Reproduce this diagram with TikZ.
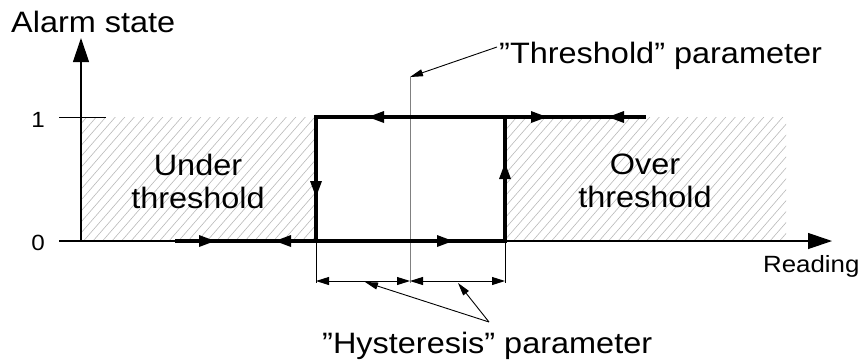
\documentclass[tikz,border=0pt]{standalone}
\usepackage{fontspec}
\setmainfont{Liberation Sans}[FakeStretch=1.1]
\usetikzlibrary{arrows.meta}
\newcommand\tipR[2]{\fill (#1,#2) -- ++(-16,-6) -- ++(0,12) -- cycle;}
\newcommand\tipL[2]{\fill (#1,#2) -- ++(16,-6) -- ++(0,12) -- cycle;}
\newcommand\tipD[2]{\fill (#1,#2) -- ++(-6,-16) -- ++(12,0) -- cycle;}
\newcommand\tipU[2]{\fill (#1,#2) -- ++(-6,16) -- ++(12,0) -- cycle;}
\begin{document}
\begin{tikzpicture}[x=1pt,y=-1pt,
  axisline/.style={line width=1.2pt,-{Triangle[length=24pt,width=16pt]}},
  loopline/.style={line width=3.4pt,line cap=butt},
  dimline/.style={line width=0.9pt,{Triangle[length=13pt,width=8pt]}-{Triangle[length=13pt,width=8pt]}},
  extline/.style={line width=0.8pt},
  leader/.style={line width=0.9pt,-{Triangle[length=13pt,width=7pt]}},
  threshline/.style={gray,line width=0.8pt},
  hatchline/.style={gray!55,line width=0.6pt},
  lbl/.style={font=\fontsize{29.5}{33}\selectfont,inner sep=0pt},
  numlbl/.style={font=\fontsize{22}{24}\selectfont,inner sep=0pt},
  ]
\useasboundingbox (0,0) rectangle (865,360);
% hatched regions
\begin{scope}
  \clip (81,117) rectangle (316,241);
  \foreach \i in {0,...,40} \draw[hatchline] ({-40+\i*9.5},241) -- ++(160,-184);
\end{scope}
\begin{scope}
  \clip (505,117) rectangle (786,241);
  \foreach \i in {0,...,42} \draw[hatchline] ({390+\i*9.5},241) -- ++(160,-184);
\end{scope}
% coordinates
\coordinate (O) at (81,241);
\coordinate (Ytop) at (81,38);
\coordinate (Xl) at (59,241);
\coordinate (Xr) at (832,241);
\coordinate (T1a) at (59,117);
\coordinate (T1b) at (106,117);
\coordinate (L0) at (175,241);
\coordinate (BL) at (316,241);
\coordinate (TL) at (316,117);
\coordinate (BR) at (505,241);
\coordinate (TR) at (505,117);
\coordinate (U1) at (646,117);
\coordinate (Th0) at (410,77);
\coordinate (Th1) at (410,283);
\coordinate (Thm) at (410,281);
\coordinate (E1) at (316,283);
\coordinate (E2) at (505,283);
\coordinate (D1) at (316,281);
\coordinate (D2) at (505,281);
\coordinate (H0) at (489,322);
\coordinate (H1) at (365,282);
\coordinate (H2) at (458,283);
\coordinate (Q0) at (497,47);
% axes
\draw[axisline] (O) -- (Ytop);
\draw[axisline] (Xl) -- (Xr);
\draw[line width=0.9pt] (T1a) -- (T1b);
% threshold line
\draw[threshline] (Th0) -- (Th1);
% loop
\draw[loopline] (L0) -- (BR) -- (TR);
\draw[loopline] (BL) -- (TL) -- (U1);
\tipR{215}{241}
\tipL{275}{241}
\tipR{453}{241}
\tipL{368}{117}
\tipR{547}{117}
\tipL{608}{117}
\tipD{316}{197}
\tipU{505}{163}
% dimensions
\draw[extline] (BL) -- (E1);
\draw[extline] (BR) -- (E2);
\draw[dimline] (D1) -- (Thm);
\draw[dimline] (Thm) -- (D2);
\draw[leader] (H0) -- (H1);
\draw[leader] (H0) -- (H2);
\draw[leader] (Q0) -- (Th0);
% labels
\node[lbl,anchor=base west] (alarm) at (11,32) {Alarm state};
\node[numlbl,anchor=base] (one) at (38,127) {1};
\node[numlbl,anchor=base] (zero) at (38,250) {0};
\node[lbl,align=center] (under) at (198,181) {Under\\threshold};
\node[lbl,align=center] (over) at (645,181) {Over\\threshold};
\node[lbl,anchor=base west,font=\fontsize{23.5}{28}\selectfont] (reading) at (763,272) {Reading};
\node[lbl,anchor=base west] (thr) at (499,63) {”Threshold” parameter};
\node[lbl,anchor=base west] (hys) at (322,353) {”Hysteresis” parameter};
\end{tikzpicture}
\end{document}
